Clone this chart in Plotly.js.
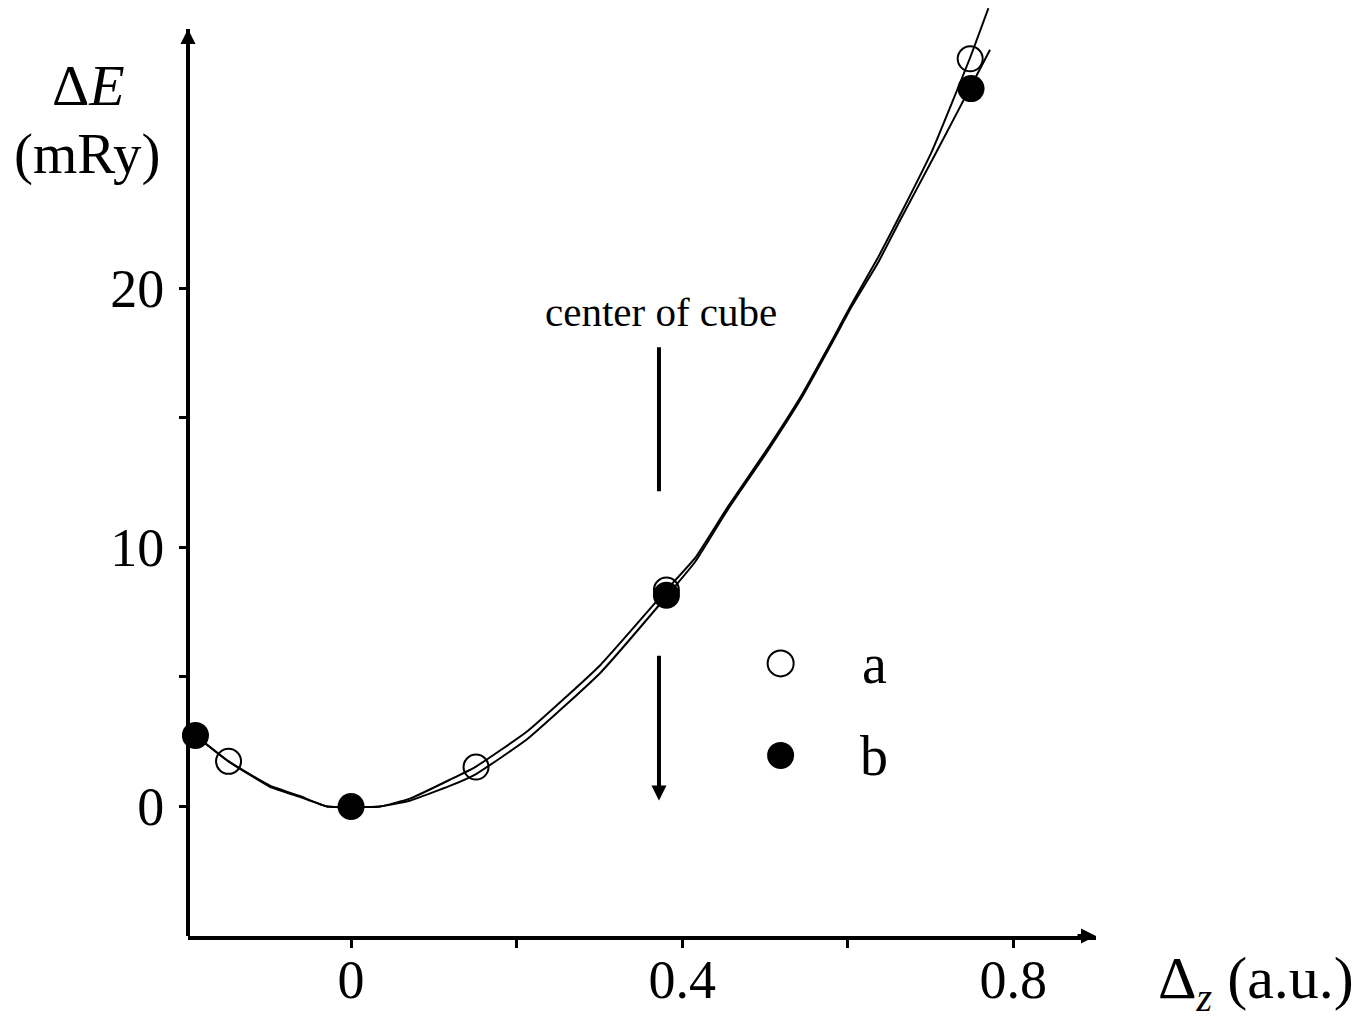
<!DOCTYPE html>
<html>
<head>
<meta charset="utf-8">
<script src="https://cdn.plot.ly/plotly-3.0.1.min.js"></script>
<style>
  html, body { margin: 0; padding: 0; background: #fff; }
  #chart { width: 1365px; height: 1019px; }
</style>
</head>
<body>
<div id="chart"></div>
<script>
// ---- data ----
const seriesNames = ["a", "b"];
// data points, series a (open circles)
const aX = [-0.148, 0.151, 0.381, 0.748];
const aY = [1.74, 1.52, 8.35, 28.85];
// data points, series b (filled circles)
const bX = [-0.188, 0.0, 0.381, 0.749];
const bY = [2.74, 0.0, 8.15, 27.7];
// fitted curve through series a
const curveAX = [-0.188, -0.148, -0.098, -0.062, -0.029, 0.035, 0.071, 0.12, 0.151, 0.213, 0.301, 0.381, 0.416, 0.454, 0.503, 0.543, 0.583, 0.605, 0.637, 0.663, 0.702, 0.748, 0.770];
const curveAY = [2.74, 1.74, 0.80, 0.40, 0.0, 0.0, 0.30, 1.04, 1.54, 2.9, 5.45, 8.35, 9.6, 11.5, 13.8, 15.8, 18.1, 19.4, 21.2, 22.8, 25.3, 28.9, 30.8];
// fitted curve through series b
const curveBX = [-0.188, -0.148, -0.098, -0.062, -0.029, 0.035, 0.071, 0.12, 0.151, 0.213, 0.301, 0.381, 0.416, 0.454, 0.503, 0.543, 0.583, 0.605, 0.637, 0.663, 0.708, 0.749, 0.772];
const curveBY = [2.74, 1.74, 0.76, 0.37, 0.0, 0.0, 0.22, 0.80, 1.25, 2.6, 5.15, 8.1, 9.45, 11.4, 13.7, 15.7, 18.0, 19.3, 21.0, 22.6, 25.3, 27.8, 29.2];
// axis ticks
const xTickVals = [0, 0.2, 0.4, 0.6, 0.8];
const xTickText = ["0", "", "0.4", "", "0.8"];
const yTickVals = [0, 5, 10, 15, 20];
const yTickText = ["0", "", "10", "", "20"];
// axis extents drawn with arrows
const yAxisMin = -5, yAxisMax = 30;
// "center of cube" marker position
const cubeCenterX = 0.372;

const FONT = "'Liberation Serif', 'DejaVu Serif', serif";

const lineStyle = { color: "#000", width: 2, shape: "spline", smoothing: 0.4 };
const traces = [
  { x: curveAX, y: curveAY, type: "scatter", mode: "lines", line: lineStyle, showlegend: false, hoverinfo: "skip" },
  { x: curveBX, y: curveBY, type: "scatter", mode: "lines", line: lineStyle, showlegend: false, hoverinfo: "skip" },
  { x: aX, y: aY, name: seriesNames[0], type: "scatter", mode: "markers", cliponaxis: false, showlegend: false,
    marker: { symbol: "circle-open", size: 25, color: "#000", line: { width: 2, color: "#000" } } },
  { x: bX, y: bY, name: seriesNames[1], type: "scatter", mode: "markers", cliponaxis: false, showlegend: false,
    marker: { symbol: "circle", size: 27, color: "#000", line: { width: 0 } } }
];

const axisCommon = {
  linecolor: "#000", linewidth: 4, mirror: false,
  ticks: "outside", ticklen: 8, tickwidth: 3, tickcolor: "#000",
  showgrid: false, zeroline: false, tickmode: "array",
  tickfont: { family: FONT, size: 54, color: "#000" }
};

const ann = (o) => Object.assign({ showarrow: false, xanchor: "center", yanchor: "middle" }, o);

const layout = {
  width: 1365, height: 1019,
  margin: { l: 188, r: 269, t: 8, b: 83, pad: 0 },
  paper_bgcolor: "#fff", plot_bgcolor: "#fff",
  showlegend: false,
  xaxis: Object.assign({}, axisCommon, { showline: true, range: [-0.197, 0.9], tickvals: xTickVals, ticktext: xTickText, ticklabelstandoff: -15 }),
  yaxis: Object.assign({}, axisCommon, { showline: false, range: [yAxisMin, 30.81], tickvals: yTickVals, ticktext: yTickText, ticklabelstandoff: 4 }),
  shapes: [
    // y axis line (ends at the arrow tip)
    { type: "line", xref: "paper", yref: "y", x0: 0, x1: 0, y0: yAxisMin, y1: yAxisMax, line: { color: "#000", width: 4 } },
    // center of cube bar
    { type: "line", xref: "x", yref: "y", x0: cubeCenterX, x1: cubeCenterX, y0: 12.16, y1: 17.72, line: { color: "#000", width: 4 } },
    // legend symbols
    { type: "circle", xref: "x", yref: "y", xsizemode: "pixel", ysizemode: "pixel", xanchor: 0.519, yanchor: 5.52,
      x0: -13, x1: 13, y0: -13, y1: 13, line: { color: "#000", width: 2 }, fillcolor: "rgba(0,0,0,0)" },
    { type: "circle", xref: "x", yref: "y", xsizemode: "pixel", ysizemode: "pixel", xanchor: 0.519, yanchor: 1.97,
      x0: -13.5, x1: 13.5, y0: -13.5, y1: 13.5, line: { color: "#000", width: 0 }, fillcolor: "#000" }
  ],
  annotations: [
    // axis arrowheads
    { xref: "paper", yref: "y", x: 0, y: yAxisMax, ax: 0, ay: 20, showarrow: true, arrowhead: 2, arrowwidth: 4, arrowsize: 0.75, arrowcolor: "#000", text: "", standoff: 0 },
    { xref: "paper", yref: "y", x: 1, y: yAxisMin, ax: -20, ay: 0, showarrow: true, arrowhead: 2, arrowwidth: 4, arrowsize: 0.75, arrowcolor: "#000", text: "", standoff: 0 },
    // center of cube arrow
    { xref: "x", yref: "y", axref: "x", ayref: "y", x: cubeCenterX, y: 0.23, ax: cubeCenterX, ay: 5.87, showarrow: true, arrowhead: 2, arrowwidth: 4, arrowsize: 0.75, arrowcolor: "#000", text: "", standoff: 0 },
    ann({ xref: "x", yref: "y", x: cubeCenterX + 0.003, y: 19.07, text: "center of cube", font: { family: FONT, size: 41, color: "#000" } }),
    // axis titles
    ann({ xref: "paper", yref: "paper", x: -0.110, y: 0.916, text: "Δ<i>E</i>", font: { family: FONT, size: 58, color: "#000" } }),
    ann({ xref: "paper", yref: "paper", x: -0.111, y: 0.843, text: "(mRy)", font: { family: FONT, size: 57, color: "#000" } }),
    ann({ xref: "paper", yref: "paper", x: 1.176, y: -0.050, text: "Δ<sub><span style=\"font-size:40px\"><i>z</i></span></sub> (a.u.)", font: { family: FONT, size: 60, color: "#000" } }),
    // legend labels
    ann({ xref: "x", yref: "y", x: 0.632, y: 5.48, text: seriesNames[0], font: { family: FONT, size: 56, color: "#000" } }),
    ann({ xref: "x", yref: "y", x: 0.632, y: 1.93, text: seriesNames[1], font: { family: FONT, size: 56, color: "#000" } })
  ]
};

Plotly.newPlot("chart", traces, layout, { displayModeBar: false, staticPlot: true });
</script>
</body>
</html>
